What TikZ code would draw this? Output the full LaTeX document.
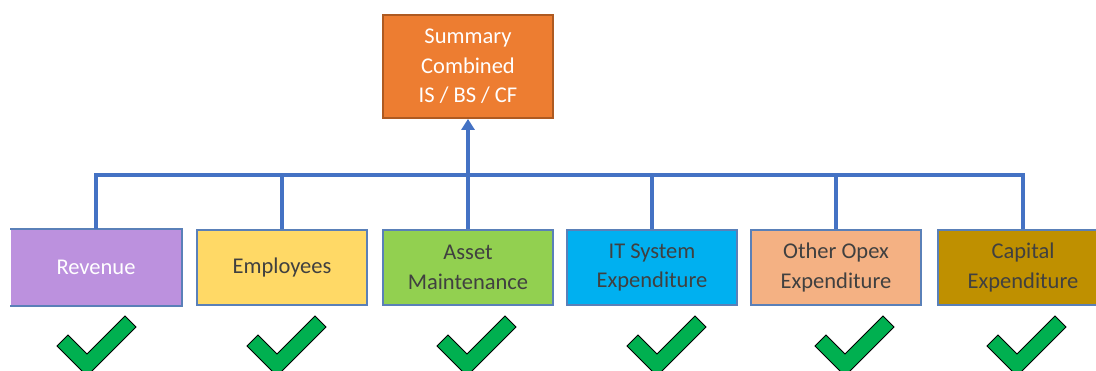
\documentclass[tikz,border=0pt]{standalone}
\usepackage{fontspec}
\setmainfont{Carlito}
\usetikzlibrary{arrows.meta}
\definecolor{linkblue}{HTML}{4472C4}
\definecolor{boxedge}{HTML}{5A80B8}
\definecolor{sumorange}{HTML}{ED7D31}
\definecolor{sumedge}{HTML}{AE5A21}
\definecolor{revpurple}{HTML}{BC91DE}
\definecolor{empyellow}{HTML}{FFD966}
\definecolor{assetgreen}{HTML}{92D050}
\definecolor{itblue}{HTML}{00B0F0}
\definecolor{opexpeach}{HTML}{F4B183}
\definecolor{capgold}{HTML}{BF9000}
\definecolor{darktext}{HTML}{404040}
\definecolor{okgreen}{HTML}{00B050}
\tikzset{
  unit/.style={minimum width=170pt, minimum height=75pt, inner sep=0pt, align=center,
    font=\fontsize{22.5}{29.5}\selectfont, text=darktext, draw=boxedge, line width=1.8pt},
  conn/.style={draw=linkblue, line width=3.2pt},
  okmark/.pic={\draw[fill=okgreen, draw=black, line width=0.9pt, line join=miter]
    (-30,-30) -- (-19,-41) -- (0,-22) -- (38,-60) -- (49,-49) -- (0,0) -- cycle;}
}
\begin{document}
\begin{tikzpicture}[x=1pt,y=-1pt]
\clip (0,0) rectangle (1096,370);
\fill[white] (0,0) rectangle (1096,370);
% top node
\node[unit, minimum height=103pt, fill=sumorange, draw=sumedge, text=white] (sum) at (468,66.5) {Summary\\Combined\\IS / BS / CF};
% bottom row
\node[unit, fill=revpurple, draw=none, text=white] (rev) at (96,267.5) {Revenue};
\draw[draw=boxedge, line width=1.8pt] (rev.north west) -- (rev.north east) -- (rev.south east) -- (rev.south west);
\node[unit, fill=empyellow] (emp) at (282,267.5) {Employees};
\node[unit, fill=assetgreen] (asset) at (468,267.5) {Asset\\Maintenance};
\node[unit, fill=itblue] (it) at (652,267.5) {IT System\\Expenditure};
\node[unit, fill=opexpeach] (opex) at (836,267.5) {Other Opex\\Expenditure};
\node[unit, fill=capgold] (cap) at (1023,267.5) {Capital\\Expenditure};
% connectors
\coordinate (bus) at (468,175);
\draw[conn] (rev.north) -- (rev.north |- bus) -- (cap.north |- bus) -- (cap.north);
\draw[conn] (emp.north) -- (emp.north |- bus);
\draw[conn] (it.north) -- (it.north |- bus);
\draw[conn] (opex.north) -- (opex.north |- bus);
\draw[conn, -{Triangle[length=11pt, width=13pt]}] (asset.north) -- (sum.south);
% check marks
\pic at (87,376) {okmark};
\pic at (277,376) {okmark};
\pic at (467,376) {okmark};
\pic at (657,376) {okmark};
\pic at (845,376) {okmark};
\pic at (1017,376) {okmark};
\end{tikzpicture}
\end{document}
